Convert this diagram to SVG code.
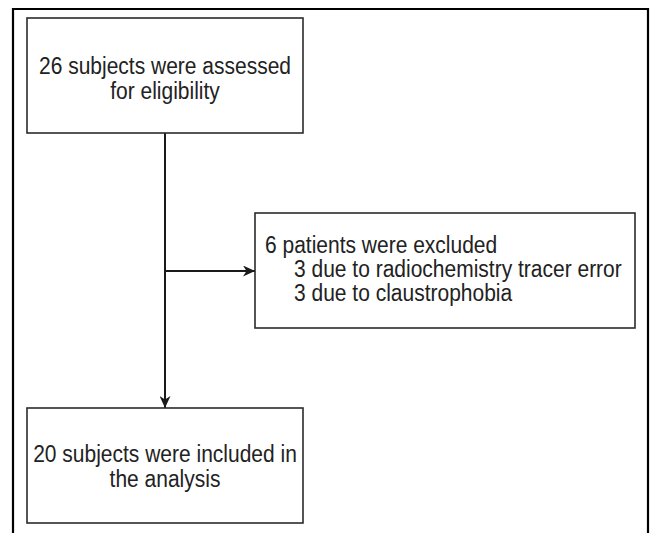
<svg xmlns="http://www.w3.org/2000/svg" width="650" height="533" viewBox="0 0 650 533">
<style>
.box{fill:#fff;stroke:#2b2b2b;stroke-width:1.6}
.t{font-family:"Liberation Sans",Arial,sans-serif;font-size:21px;fill:#222}
.c{text-anchor:middle}
.conn{stroke:#1a1a1a;stroke-width:2;fill:none}
</style>
<defs>
<marker id="ah" viewBox="0 0 12 11" refX="12" refY="5.5" markerWidth="12" markerHeight="11" markerUnits="userSpaceOnUse" orient="auto">
<path d="M0,0 L12,5.5 L0,11 L3.5,5.5 Z" fill="#1a1a1a"/>
</marker>
</defs>
<rect width="650" height="533" fill="#fff"/>
<path d="M13,533 V9 H648 V533" fill="none" stroke="#000" stroke-width="2.2"/>
<g id="connectors">
<path class="conn" d="M165,133 V408" marker-end="url(#ah)"/>
<path class="conn" d="M165,271 H255" marker-end="url(#ah)"/>
</g>
<g id="node-assessed">
<rect class="box" x="27" y="18" width="276" height="115"/>
<text class="t c" transform="translate(165,74) scale(1,1.1)">26 subjects were assessed</text>
<text class="t c" transform="translate(165,99) scale(1,1.1)">for eligibility</text>
</g>
<g id="node-excluded">
<rect class="box" x="255" y="213" width="380" height="115"/>
<text class="t" transform="translate(265,253) scale(1,1.1)">6 patients were excluded</text>
<text class="t" transform="translate(294,277) scale(1,1.1)">3 due to radiochemistry tracer error</text>
<text class="t" transform="translate(294,301) scale(1,1.1)">3 due to claustrophobia</text>
</g>
<g id="node-included">
<rect class="box" x="27" y="408" width="276" height="115"/>
<text class="t c" transform="translate(165,462) scale(1,1.1)">20 subjects were included in</text>
<text class="t c" transform="translate(165,487) scale(1,1.1)">the analysis</text>
</g>
</svg>
